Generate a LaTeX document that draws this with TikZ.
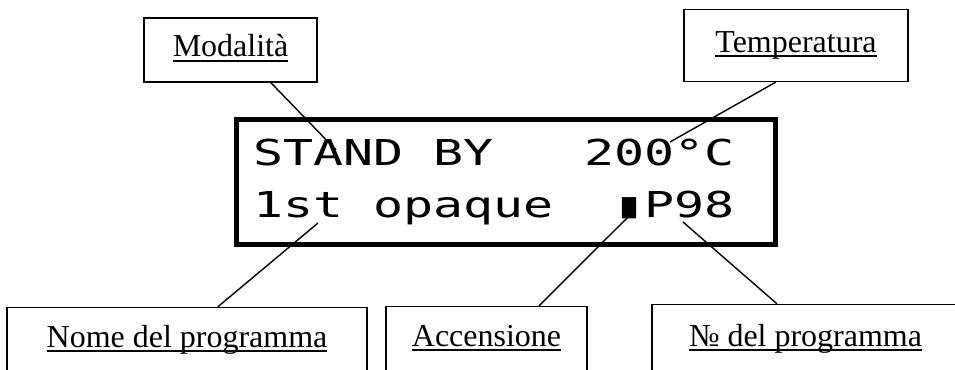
\documentclass[tikz,border=0pt]{standalone}
\usepackage{fontspec}
\setmainfont{Liberation Serif}
\newfontfamily\lcdfont{DejaVu Sans Mono}
% sottolineatura a distanza fissa dalla linea di base
\newcommand\sottolinea[1]{\setbox0\hbox{#1}\rlap{\rule[-0.1cm]{\wd0}{0.04cm}}\box0}
% riga del display, allargata come un LCD
\newcommand\riga[1]{\scalebox{1.4}[1]{#1}}
\tikzset{
  etichetta/.style={draw,line width=0.8pt,inner sep=0pt,
    font=\fontsize{18.2pt}{22pt}\selectfont},
  lcd/.style={inner sep=0pt,anchor=base west,
    font=\lcdfont\fontsize{20.3pt}{24pt}\selectfont},
  filo/.style={line width=0.8pt}
}
\begin{document}
\begin{tikzpicture}[x=0.02cm,y=-0.02cm]
  \useasboundingbox (0,0) rectangle (955,369);
  \clip (0,0) rectangle (955,369);
  % display
  \node[draw,line width=2.85pt,minimum width=10.78cm,minimum height=2.5cm] (display) at (506,182) {};
  \node[lcd] (riga1) at (253,165) {\riga{STAND~BY~~~200°C}};
  \node[lcd] (riga2) at (253,217) {\riga{1st~opaque~~▮P98}};
  % etichette in alto
  \node[etichetta,minimum width=3.46cm,text height=0.77cm,text depth=0.51cm]
    (modalita) at (230.5,50) {\sottolinea{Modalità}};
  \node[etichetta,minimum width=4.48cm,text height=0.85cm,text depth=0.59cm]
    (temp) at (796,45.5) {\sottolinea{Temperatura}};
  % etichette in basso (tagliate dal bordo)
  \node[etichetta,minimum width=7.2cm,text height=0.79cm,text depth=1.01cm]
    (nome) at (187,352.5) {\sottolinea{Nome del programma}};
  \node[etichetta,minimum width=4.02cm,text height=0.79cm,text depth=1.01cm]
    (accens) at (486.5,351.5) {\sottolinea{Accensione}};
  \node[etichetta,minimum width=6.14cm,text height=0.83cm,text depth=0.97cm]
    (numprog) at (805.5,349.5) {\sottolinea{№ del programma}};
  % punti indicati sul display
  \coordinate (pMod) at (336,150);
  \coordinate (pTemp) at (670,142);
  \coordinate (pNome) at (318,223);
  \coordinate (pAcc) at (628,217);
  \coordinate (pNum) at (683,222);
  % linee di richiamo
  \draw[filo] (modalita.321) -- (pMod);
  \draw[filo] (temp.241) -- (pTemp);
  \draw[filo] (nome.56) -- (pNome);
  \draw[filo] (accens.41) -- (pAcc);
  \draw[filo] (numprog.122) -- (pNum);
\end{tikzpicture}
\end{document}
